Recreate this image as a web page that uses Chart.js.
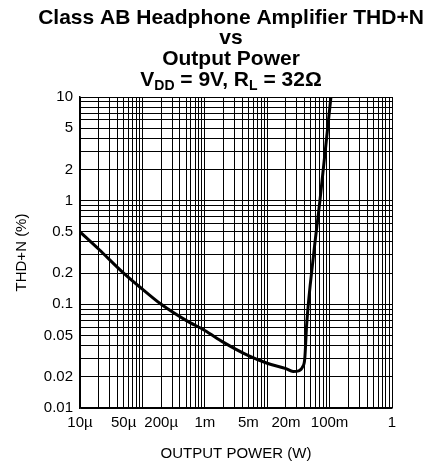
<!DOCTYPE html>
<html>
<head>
<meta charset="utf-8">
<script src="https://cdn.jsdelivr.net/npm/chart.js@4.4.0/dist/chart.umd.min.js"></script>
<style>
  html, body { margin: 0; padding: 0; background: #fff; }
  #wrap { position: relative; width: 433px; height: 463px; }
</style>
</head>
<body>
<div id="wrap"><canvas id="thd-chart"></canvas></div>
<script>
// THD+N curve
const powerW = [1e-5, 2e-5, 5e-5, 1e-4, 2e-4, 5e-4, 1e-3, 2e-3, 5e-3, 1e-2, 2e-2, 2.6e-2, 3.2e-2, 3.7e-2, 4.0e-2, 4.3e-2, 5.5e-2, 7.0e-2, 0.105];
const thdPct = [0.5, 0.34, 0.2, 0.14, 0.1, 0.07, 0.056, 0.043, 0.032, 0.027, 0.024, 0.0225, 0.0228, 0.025, 0.03, 0.065, 0.29, 1.0, 10];

const xTickValues = [1e-5, 5e-5, 2e-4, 1e-3, 5e-3, 2e-2, 1e-1, 1];
const xTickLabels = ['10µ', '50µ', '200µ', '1m', '5m', '20m', '100m', '1'];
const yTickValues = [0.01, 0.02, 0.05, 0.1, 0.2, 0.5, 1, 2, 5, 10];
const yTickLabels = ['0.01', '0.02', '0.05', '0.1', '0.2', '0.5', '1', '2', '5', '10'];

const titleLines = ['Class AB Headphone Amplifier THD+N', 'vs', 'Output Power'];
// last title line: [text, isSubscript]
const conditionLine = [['V', false], ['DD', true], [' = 9V, R', false], ['L', true], [' = 32Ω', false]];

const FONT = '"Liberation Sans", Arial, Helvetica, sans-serif';

// every 1..9 x 10^k between min and max, for the log grid
function logGrid(min, max) {
    const out = [];
    for (let e = Math.floor(Math.log10(min)); e <= Math.ceil(Math.log10(max)); e++) {
        for (let m = 1; m <= 9; m++) {
            const v = m * Math.pow(10, e);
            if (v >= min * 0.999 && v <= max * 1.001) out.push({ value: v });
        }
    }
    return out;
}

function labelFor(values, labels) {
    return function (value) {
        const i = values.findIndex(t => Math.abs(value - t) / t < 1e-6);
        return i >= 0 ? labels[i] : '';
    };
}

const titlePlugin = {
    id: 'stackTitle',
    afterDraw(chart) {
        const ctx = chart.ctx;
        const cx = 231;
        const baselines = [24, 44, 65, 86];
        ctx.save();
        ctx.fillStyle = '#000';
        ctx.textBaseline = 'alphabetic';
        ctx.textAlign = 'center';
        ctx.font = 'bold 21px ' + FONT;
        titleLines.forEach((t, i) => ctx.fillText(t, cx, baselines[i]));

        const big = 'bold 21px ' + FONT, small = 'bold 14px ' + FONT;
        let total = 0;
        conditionLine.forEach(([t, sub]) => { ctx.font = sub ? small : big; total += ctx.measureText(t).width; });
        let x = cx - total / 2;
        ctx.textAlign = 'left';
        conditionLine.forEach(([t, sub]) => {
            ctx.font = sub ? small : big;
            ctx.fillText(t, x, baselines[3] + (sub ? 4 : 0));
            x += ctx.measureText(t).width;
        });
        ctx.restore();
    }
};

new Chart(document.getElementById('thd-chart').getContext('2d'), {
    type: 'line',
    data: {
        datasets: [{
            data: powerW.map((p, i) => ({ x: p, y: thdPct[i] })),
            borderColor: '#000',
            borderWidth: 3,
            pointRadius: 0,
            fill: false,
            cubicInterpolationMode: 'monotone'
        }]
    },
    options: {
        responsive: true,
        maintainAspectRatio: false,
        animation: false,
        layout: { padding: { top: 97, right: 41, left: 0, bottom: 0 } },
        plugins: { legend: { display: false }, tooltip: { enabled: false }, title: { display: false } },
        scales: {
            x: {
                type: 'logarithmic',
                min: 1e-5,
                max: 1,
                afterBuildTicks: s => { s.ticks = logGrid(1e-5, 1); },
                afterFit: s => { s.height = 55; },
                grid: { color: '#000', lineWidth: 1, drawTicks: false },
                border: { color: '#000', width: 1.5 },
                ticks: {
                    autoSkip: false, maxRotation: 0, padding: 6, color: '#000',
                    font: { family: FONT, size: 15 },
                    callback: labelFor(xTickValues, xTickLabels)
                },
                title: {
                    display: true, text: 'OUTPUT POWER (W)', color: '#000',
                    font: { family: FONT, size: 15 }, padding: { top: 0, bottom: 0 }
                }
            },
            y: {
                type: 'logarithmic',
                min: 0.01,
                max: 10,
                afterBuildTicks: s => { s.ticks = logGrid(0.01, 10); },
                afterFit: s => { s.width = 80; },
                grid: { color: '#000', lineWidth: 1, drawTicks: false },
                border: { color: '#000', width: 1.5 },
                ticks: {
                    autoSkip: false, padding: 7, color: '#000',
                    font: { family: FONT, size: 15 },
                    callback: labelFor(yTickValues, yTickLabels)
                },
                title: {
                    display: true, text: 'THD+N (%)', color: '#000',
                    font: { family: FONT, size: 15 }, padding: { top: 13, bottom: 0 }
                }
            }
        }
    },
    plugins: [titlePlugin]
});
</script>
</body>
</html>
